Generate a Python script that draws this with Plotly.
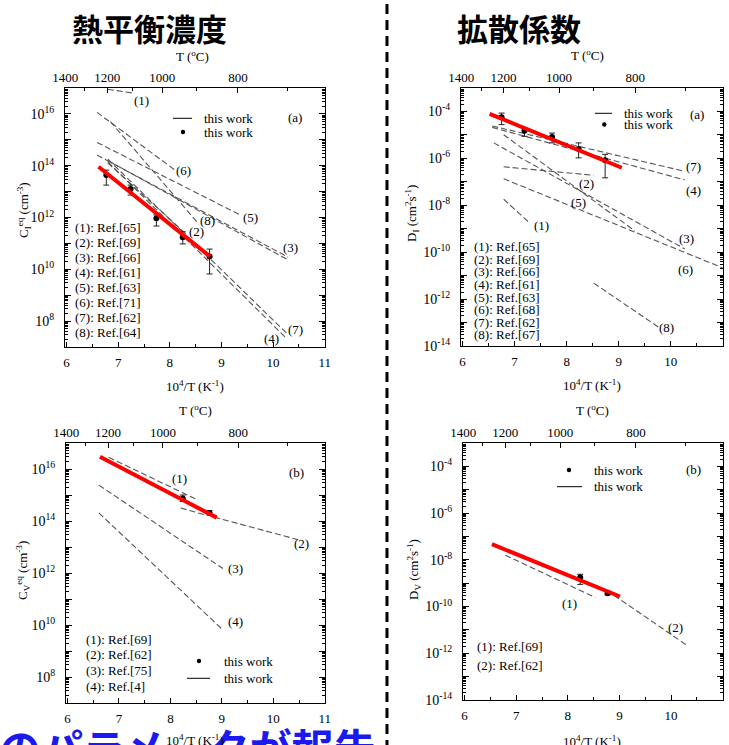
import plotly.graph_objects as go

W, H = 729, 745

# ---------------- data ----------------
# top axis: temperature (deg C)
T_major = [1400, 1200, 1000, 800]
T_minor = [1300, 1100, 900, 700]

# Panel (a) left: C_I^eq  (cm^-3)
ci_ref_x0 = [6.80, 6.80, 6.59, 6.80, 6.80, 6.59, 6.59, 6.80, 6.85]
ci_ref_y0 = [8.9e16, 1.26e14, 2.57e14, 1.58e14, 1.41e14, 7.94e14, 1.15e16, 1.78e14, 5.01e15]
ci_ref_x1 = [7.30, 8.35, 10.29, 10.29, 10.25, 9.36, 8.12, 10.28, 8.52]
ci_ref_y1 = [6.3e16, 2.0e11, 2.95e10, 2.29e10, 2.24e7, 1.26e12, 6.31e13, 3.16e7, 6.92e11]
ci_fit_x = [6.62, 8.78]
ci_fit_y = [9.12e13, 3.09e10]
ci_pt_x = [6.77, 7.24, 7.74, 8.25, 8.77]
ci_pt_y = [4.37e13, 1.26e13, 9.33e11, 1.74e11, 3.09e10]
ci_pt_hi = [6.76e13, 1.78e13, 1.26e12, 2.82e11, 6.03e10]
ci_pt_lo = [1.78e13, 7.4e12, 4.68e11, 9.55e10, 6.61e9]
ci_refs = ["(1): Ref.[65]", "(2): Ref.[69]", "(3): Ref.[66]", "(4): Ref.[61]",
           "(5): Ref.[63]", "(6): Ref.[71]", "(7): Ref.[62]", "(8): Ref.[64]"]

# Panel (a) right: D_I (cm^2 s^-1)
di_ref_x0 = [6.79, 6.79, 6.60, 6.57, 6.79, 6.79, 6.57, 8.52]
di_ref_y0 = [1.82e-8, 1.02e-5, 4.57e-6, 2.09e-5, 4.37e-7, 1.35e-7, 2.40e-5, 4.8e-12]
di_ref_x1 = [7.27, 9.31, 10.27, 10.27, 8.52, 11.0, 10.27, 9.76]
di_ref_y1 = [1.91e-9, 8.1e-10, 1.38e-10, 1.20e-7, 1.90e-7, 2.14e-11, 2.8e-7, 6.5e-14]
di_fit_x = [6.52, 9.06]
di_fit_y = [7.94e-5, 3.98e-7]
di_pt_x = [6.75, 7.19, 7.72, 8.23, 8.74]
di_pt_y = [5.62e-5, 1.51e-5, 8.13e-6, 2.51e-6, 8.32e-7]
di_pt_hi = [8.51e-5, 1.95e-5, 1.20e-5, 4.57e-6, 1.48e-6]
di_pt_lo = [2.75e-5, 8.7e-6, 4.57e-6, 1.05e-6, 1.48e-7]
di_refs = ["(1): Ref.[65]", "(2): Ref.[69]", "(3): Ref.[66]", "(4): Ref.[61]",
           "(5): Ref.[63]", "(6): Ref.[68]", "(7): Ref.[62]", "(8): Ref.[67]"]

# Panel (b) left: C_V^eq (cm^-3)
cv_ref_x0 = [6.80, 8.20, 8.85, 6.61, 6.61]
cv_ref_y0 = [2.82e16, 3.16e14, 1.41e14, 2.40e15, 2.04e14]
cv_ref_x1 = [8.54, 8.70, 10.52, 9.02, 9.02]
cv_ref_y1 = [6.31e14, 1.66e14, 1.82e13, 1.48e12, 6.46e9]
cv_fit_x = [6.63, 8.90]
cv_fit_y = [2.95e16, 1.35e14]
cv_pt_x = [8.24, 8.76]
cv_pt_y = [7.41e14, 2.04e14]
cv_pt_hi = [1.0e15, 2.5e14]
cv_pt_lo = [5.6e14, 1.7e14]
cv_refs = ["(1): Ref.[69]", "(2): Ref.[62]", "(3): Ref.[75]", "(4): Ref.[4]"]

# Panel (b) right: D_V (cm^2 s^-1)
dv_ref_x0 = [6.79, 8.75]
dv_ref_y0 = [1.58e-8, 5.0e-10]
dv_ref_x1 = [8.53, 10.30]
dv_ref_y1 = [2.45e-10, 2.24e-12]
dv_fit_x = [6.53, 9.01]
dv_fit_y = [4.68e-8, 2.69e-10]
dv_pt_x = [8.24, 8.77]
dv_pt_y = [1.74e-9, 3.72e-10]
dv_pt_hi = [2.4e-9, 4.5e-10]
dv_pt_lo = [8.9e-10, 3.16e-10]
dv_refs = ["(1): Ref.[69]", "(2): Ref.[62]"]

# ---------------- helpers ----------------
SERIF = "Liberation Serif, Times New Roman, serif"
CJK = "Noto Sans CJK JP"
XR = [5.97, 11.005]


def px(x):
    return x / W


def py(y):
    return 1 - y / H


fig = go.Figure()

panels = [
    dict(i=1, xd=(65, 325), yd=(88, 347), yr=(7, 17),
         rx0=ci_ref_x0, ry0=ci_ref_y0, rx1=ci_ref_x1, ry1=ci_ref_y1,
         fx=ci_fit_x, fy=ci_fit_y, ptx=ci_pt_x, pty=ci_pt_y, hi=ci_pt_hi, lo=ci_pt_lo),
    dict(i=2, xd=(461, 723), yd=(88, 346), yr=(-14, -3),
         rx0=di_ref_x0, ry0=di_ref_y0, rx1=di_ref_x1, ry1=di_ref_y1,
         fx=di_fit_x, fy=di_fit_y, ptx=di_pt_x, pty=di_pt_y, hi=di_pt_hi, lo=di_pt_lo),
    dict(i=3, xd=(66, 325), yd=(443, 703), yr=(7, 17),
         rx0=cv_ref_x0, ry0=cv_ref_y0, rx1=cv_ref_x1, ry1=cv_ref_y1,
         fx=cv_fit_x, fy=cv_fit_y, ptx=cv_pt_x, pty=cv_pt_y, hi=cv_pt_hi, lo=cv_pt_lo),
    dict(i=4, xd=(463, 723), yd=(443, 700), yr=(-14, -3),
         rx0=dv_ref_x0, ry0=dv_ref_y0, rx1=dv_ref_x1, ry1=dv_ref_y1,
         fx=dv_fit_x, fy=dv_fit_y, ptx=dv_pt_x, pty=dv_pt_y, hi=dv_pt_hi, lo=dv_pt_lo),
]

tick_font = dict(family=SERIF, size=13, color="black")
ytick_font = dict(family=SERIF, size=14, color="black")
layout_axes = {}

for p in panels:
    i = p["i"]
    xa = "x" if i == 1 else f"x{i}"
    ya = "y" if i == 1 else f"y{i}"
    top = f"x{i + 4}"
    right = f"y{i + 4}"
    for a, b, c, d in zip(p["rx0"], p["ry0"], p["rx1"], p["ry1"]):
        fig.add_trace(go.Scatter(x=[a, c], y=[b, d], mode="lines", xaxis=xa, yaxis=ya,
                                 line=dict(color="#555555", width=1.1, dash="6px,3px"),
                                 showlegend=False, hoverinfo="skip"))
    fig.add_trace(go.Scatter(
        x=p["ptx"], y=p["pty"], mode="markers", xaxis=xa, yaxis=ya,
        marker=dict(color="black", size=6),
        error_y=dict(type="data", symmetric=False,
                     array=[h - v for h, v in zip(p["hi"], p["pty"])],
                     arrayminus=[v - l for l, v in zip(p["lo"], p["pty"])],
                     color="#222222", thickness=1, width=3),
        showlegend=False, hoverinfo="skip"))
    fig.add_trace(go.Scatter(x=p["fx"], y=p["fy"], mode="lines", xaxis=xa, yaxis=ya,
                             line=dict(color="#ff0000", width=4),
                             showlegend=False, hoverinfo="skip"))
    fig.add_trace(go.Scatter(x=[], y=[], xaxis=top, yaxis=ya, showlegend=False))
    fig.add_trace(go.Scatter(x=[], y=[], xaxis=xa, yaxis=right, showlegend=False))

    lo, hi = p["yr"]
    decs = list(range(lo, hi + 1))
    ytext = [f"10<sup>{e}</sup>" if (e % 2 == 0 and e != hi and not (hi == 17 and e == 7)) else "" for e in decs]
    yminor = [m * 10.0 ** e for e in range(lo, hi) for m in range(2, 10)]
    xdom = [px(p["xd"][0]), px(p["xd"][1])]
    ydom = [py(p["yd"][1]), py(p["yd"][0])]
    key_x = "xaxis" if i == 1 else f"xaxis{i}"
    key_y = "yaxis" if i == 1 else f"yaxis{i}"
    layout_axes[key_x] = dict(
        domain=xdom, anchor=ya, range=XR, showgrid=False, zeroline=False, automargin=False,
        showline=True, linecolor="black", linewidth=1, mirror=False,
        ticks="inside", ticklen=5, tickcolor="black", tickvals=[6, 7, 8, 9, 10, 11],
        ticktext=["6", "7", "8", "9", "10", "11"], tickfont=tick_font, ticklabelstandoff=3,
        minor=dict(ticks="inside", ticklen=3, tickcolor="black", tickvals=[6.5, 7.5, 8.5, 9.5, 10.5]),
    )
    layout_axes[f"xaxis{i + 4}"] = dict(
        overlaying=xa, anchor=ya, side="top", range=XR, showgrid=False, zeroline=False,
        automargin=False,
        showline=True, linecolor="black", linewidth=1,
        ticks="inside", ticklen=5, tickcolor="black",
        tickvals=[1e4 / (t + 273.15) for t in T_major], ticktext=[str(t) for t in T_major],
        tickfont=tick_font, ticklabelstandoff=0,
        minor=dict(ticks="inside", ticklen=3, tickcolor="black",
                   tickvals=[1e4 / (t + 273.15) for t in T_minor]),
    )
    layout_axes[key_y] = dict(
        domain=ydom, anchor=xa, type="log", range=[lo, hi], showgrid=False, zeroline=False,
        automargin=False,
        showline=True, linecolor="black", linewidth=1, mirror=False,
        ticks="inside", ticklen=6, tickcolor="black",
        tickvals=[10.0 ** e for e in decs], ticktext=ytext, tickfont=ytick_font,
        ticklabelstandoff=7,
        minor=dict(ticks="inside", ticklen=3, tickcolor="black", tickvals=yminor),
    )
    layout_axes[f"yaxis{i + 4}"] = dict(
        overlaying=ya, anchor=xa, side="right", type="log", range=[lo, hi],
        showgrid=False, zeroline=False, automargin=False,
        showline=True, linecolor="black", linewidth=1,
        ticks="inside", ticklen=6, tickcolor="black", showticklabels=False,
        tickvals=[10.0 ** e for e in decs],
        minor=dict(ticks="inside", ticklen=3, tickcolor="black", tickvals=yminor),
    )

annotations = []
shapes = []


def txt(x, y, s, size=13, xanchor="center", yanchor="middle", angle=0, font=SERIF, color="black", bold=False):
    if bold:
        s = f"<b>{s}</b>"
    annotations.append(dict(x=px(x), y=py(y), xref="paper", yref="paper", text=s, showarrow=False,
                            xanchor=xanchor, yanchor=yanchor, textangle=angle,
                            font=dict(family=font, size=size, color=color)))


# Bottom blue text (partly cut off at the bottom edge)
txt(-3, 714, "のパラメータが報告", size=42, xanchor="left", yanchor="top", font=CJK, color="#1a1aee", bold=True)

# Titles
txt(149, 28, "熱平衡濃度", size=31, font=CJK, bold=True)
txt(519, 28, "拡散係数", size=31, font=CJK, bold=True)

# Axis titles
for (x, y) in [(193, 56), (587, 55), (195, 410), (592, 410)]:
    txt(x, y, "T (<sup>o</sup>C)")
for (x, y) in [(195, 386), (592, 385), (195, 740), (592, 741)]:
    txt(x, y, "10<sup>4</sup>/T (K<sup>-1</sup>)")
txt(24, 210, "C<sub>I</sub><sup>eq</sup> (cm<sup>-3</sup>)", angle=-90)
txt(412, 214, "D<sub>I</sub> (cm<sup>2</sup>s<sup>-1</sup>)", angle=-90)
txt(23, 570, "C<sub>V</sub><sup>eq</sup> (cm<sup>-3</sup>)", angle=-90)
txt(414, 570, "D<sub>V</sub> (cm<sup>2</sup>s<sup>-1</sup>)", angle=-90)

# Line labels
lab1 = [("(1)", 141.7, 100), ("(6)", 183.3, 170.7), ("(5)", 250, 217.7), ("(8)", 207.3, 220.7),
        ("(2)", 196.7, 231.7), ("(3)", 290, 247.3), ("(7)", 295, 329), ("(4)", 271.7, 338.3)]
lab2 = [("(7)", 693.3, 166.7), ("(4)", 693.3, 190), ("(2)", 586.7, 183.3), ("(5)", 578.3, 202.3),
        ("(1)", 541, 225), ("(3)", 686, 238.3), ("(6)", 685, 269.3), ("(8)", 666.7, 327.3)]
lab3 = [("(1)", 179.3, 478.3), ("(2)", 301.7, 543.3), ("(3)", 235, 568.3), ("(4)", 235, 621.7)]
lab4 = [("(1)", 569, 603.3), ("(2)", 675, 627.3)]
for s, x, y in lab1 + lab2 + lab3 + lab4:
    txt(x, y, s)

# Reference lists
for k, s in enumerate(ci_refs):
    txt(72.5, 227 + 15.1 * k, s, xanchor="left")
for k, s in enumerate(di_refs):
    txt(472, 246.7 + 12.6 * k, s, xanchor="left")
for k, s in enumerate(cv_refs):
    txt(84, 639 + 15.7 * k, s, xanchor="left")
for k, s in enumerate(dv_refs):
    txt(475, 646 + 19 * k, s, xanchor="left")

# Panel tags
txt(295, 117, "(a)")
txt(697, 114, "(a)")
txt(296, 472, "(b)")
txt(693, 469, "(b)")


def leg_line(x0, x1, y, tx):
    shapes.append(dict(type="line", xref="paper", yref="paper", x0=px(x0), x1=px(x1), y0=py(y), y1=py(y),
                       line=dict(color="black", width=1)))
    txt(tx, y, "this work", xanchor="left")


def leg_dot(x, y, tx):
    r = 2.2
    shapes.append(dict(type="circle", xref="paper", yref="paper", x0=px(x - r), x1=px(x + r),
                       y0=py(y + r), y1=py(y - r), fillcolor="black", line=dict(width=0)))
    txt(tx, y, "this work", xanchor="left")


leg_line(173, 192, 118.3, 202)
leg_dot(183, 132, 202)
leg_line(595, 612, 113.3, 621.5)
leg_dot(604.3, 124.5, 621.5)
leg_dot(199, 661, 221.5)
leg_line(187, 210, 678.3, 221.5)
leg_dot(569, 470, 591.5)
leg_line(557, 582, 486.7, 591.5)

# vertical divider
shapes.append(dict(type="line", xref="paper", yref="paper", x0=px(387), x1=px(387), y0=py(4), y1=py(748),
                   line=dict(color="black", width=3, dash="10px,6px")))

fig.update_layout(
    width=W, height=H, autosize=False,
    margin=dict(l=0, r=0, t=0, b=0, autoexpand=False),
    paper_bgcolor="white", plot_bgcolor="white",
    showlegend=False,
    annotations=annotations, shapes=shapes,
    **layout_axes,
)

fig.write_html("out.html", config={"displayModeBar": False},
               post_script="document.body.style.margin='0px';document.body.style.overflow='hidden';")
